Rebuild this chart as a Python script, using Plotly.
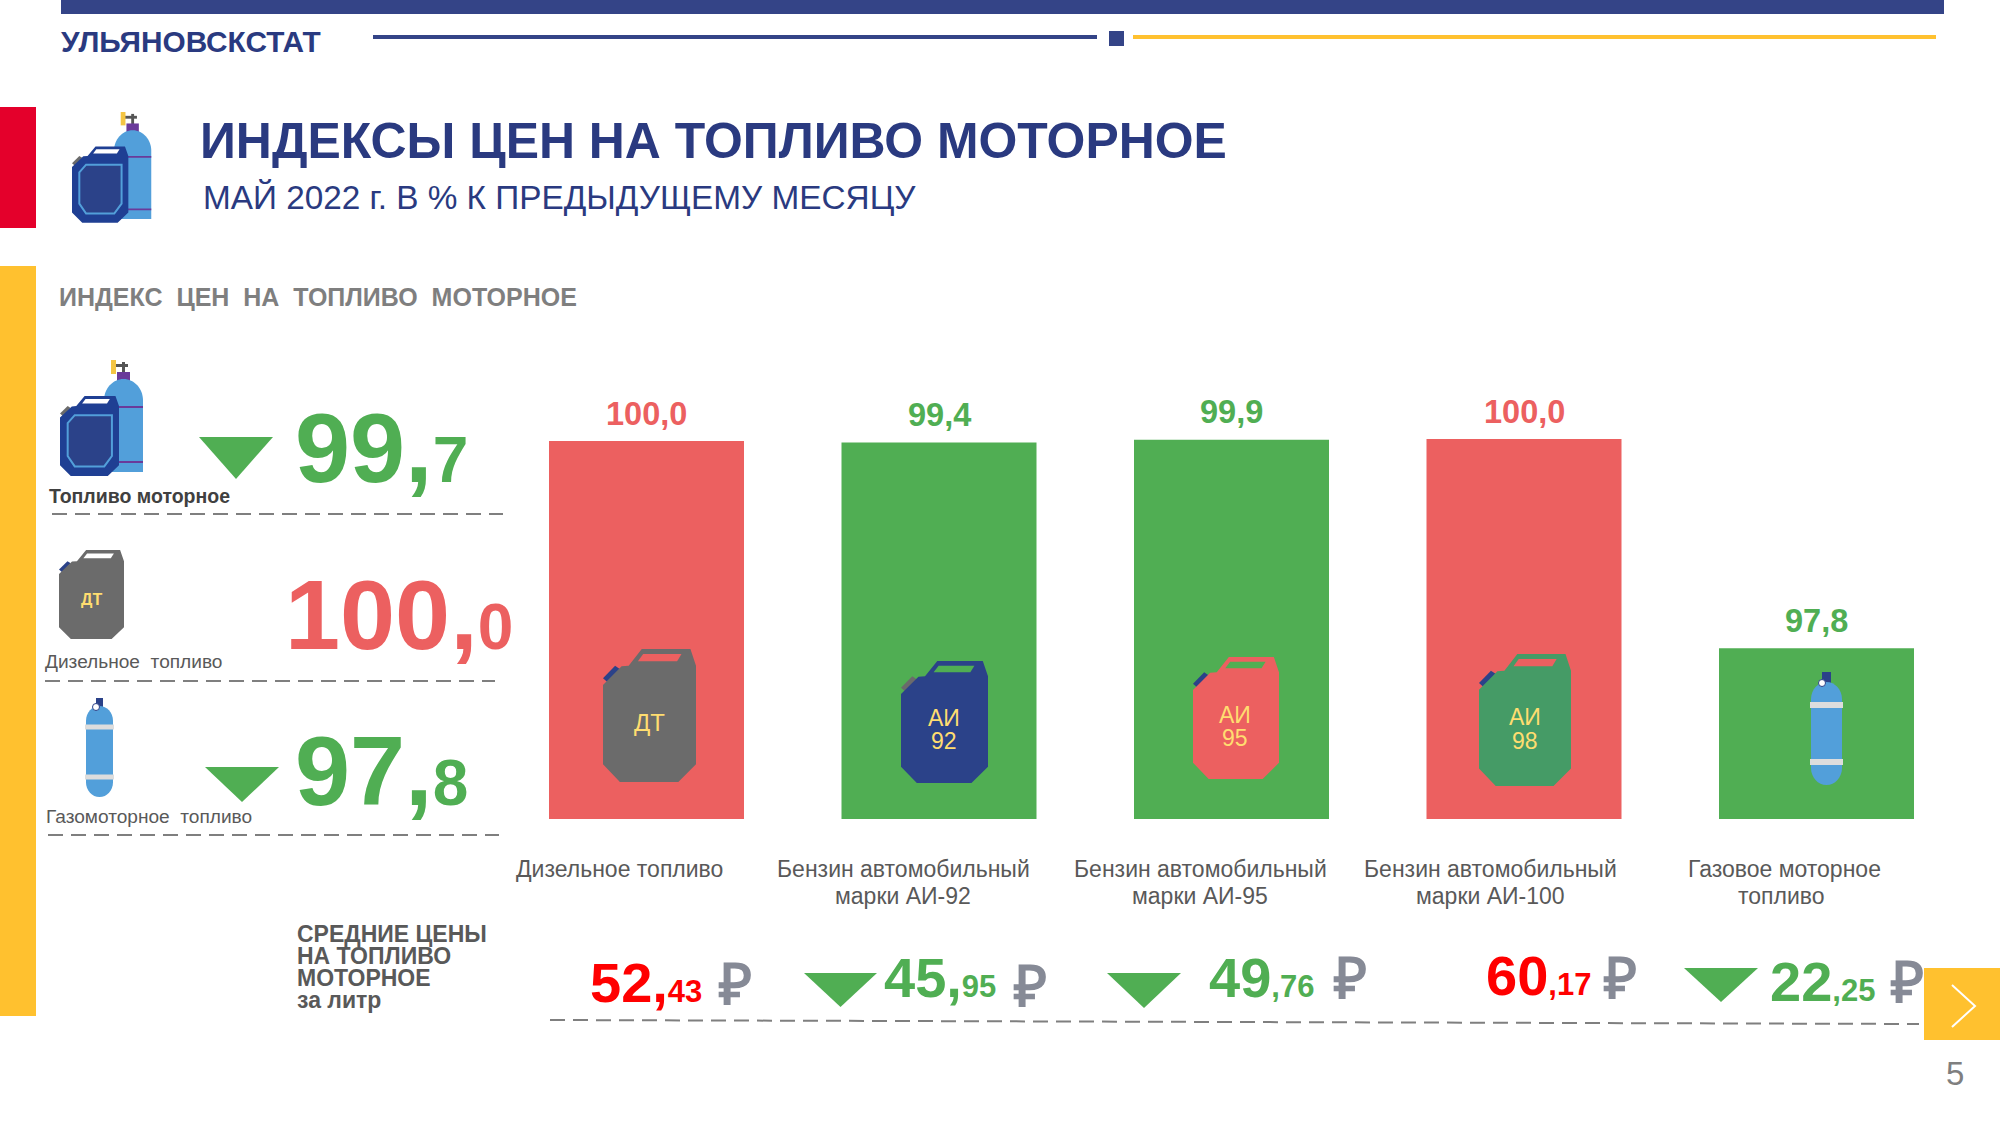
import plotly.graph_objects as go

W, H = 2000, 1125

# ---- data ----
fuel_names = ["Дизельное топливо", "Бензин АИ-92", "Бензин АИ-95", "Бензин АИ-100", "Газовое топливо"]
index_values = [100.0, 99.4, 99.9, 100.0, 97.8]
# Bar lengths as drawn in the picture (relative to first bar); the picture's bars are not proportional to the labels
bar_lengths = [100.0, 99.6, 100.3, 100.5, 45.2]
label_line1 = ["Дизельное топливо", "Бензин автомобильный", "Бензин автомобильный", "Бензин автомобильный", "Газовое моторное"]
label_line2 = ["", "марки АИ-92", "марки АИ-95", "марки АИ-100", "топливо"]
summary_names = ["Топливо моторное", "Дизельное  топливо", "Газомоторное  топливо"]
summary_whole = ["99,", "100,", "97,"]
summary_decimal = ["7", "0", "8"]
price_whole = ["52,", "45,", "49", "60", "22"]
price_decimal = ["43", "95", ",76", ",17", ",25"]
price_rising = [True, False, False, True, False]
price_heading = ["СРЕДНИЕ ЦЕНЫ", "НА ТОПЛИВО", "МОТОРНОЕ", "за литр"]

# ---- style ----
RED, GREEN = "#EC6060", "#50AE53"
PURE_RED = "#FF0000"
NAVY = "#2B4289"
HEAD = "#2A3A80"
BAR_TOP = "#344487"
YELLOW = "#FFC12F"
CRIMSON = "#E4002B"
GREY = "#7F7F7F"
DGREY = "#595959"
LBLUE = "#529FDA"
CANGREY = "#6B6B6B"
LABEL_Y = "#FFDD70"
FONT = "Liberation Sans"

shapes, annos = [], []


def px(x):
    return x / W


def py(y):
    return 1 - y / H


def rect(x0, y0, x1, y1, color):
    shapes.append(dict(type="rect", xref="paper", yref="paper", x0=px(x0), x1=px(x1), y0=py(y0), y1=py(y1),
                       fillcolor=color, line=dict(width=0)))


def poly(points, fill=None, stroke=None, width=0, close=True, dash=None):
    d = "M " + " L ".join(f"{px(a):.5f},{py(b):.5f}" for a, b in points) + (" Z" if close else "")
    line = dict(width=width, color=stroke or "rgba(0,0,0,0)")
    if dash:
        line["dash"] = dash
    shapes.append(dict(type="path", xref="paper", yref="paper", path=d,
                       fillcolor=fill or "rgba(0,0,0,0)", line=line))


def hline(x0, y0, x1, y1, color, width, dash=None):
    line = dict(color=color, width=width)
    if dash:
        line["dash"] = dash
    shapes.append(dict(type="line", xref="paper", yref="paper", x0=px(x0), x1=px(x1), y0=py(y0), y1=py(y1), line=line))


def txt(x, base, s, size, color, bold=False, anchor="left", family=FONT):
    """Text placed by its baseline in page pixels."""
    annos.append(dict(xref="paper", yref="paper", x=px(x), y=py(base + 0.22 * size), text=s, showarrow=False,
                      xanchor=anchor, yanchor="bottom", borderpad=0, borderwidth=0, align="left",
                      font=dict(family=family, size=size, color=color, weight=700 if bold else 400)))


def tri(x0, y0, x1, y1, color=GREEN):
    poly([(x0, y0), (x1, y0), ((x0 + x1) / 2, y1)], fill=color)


def can(x0, y0, x1, y1, body, hole, cap):
    w, h = x1 - x0, y1 - y0
    m = lambda pts: [(x0 + u * w, y0 + v * h) for u, v in pts]
    poly(m([(0, .22), (.13, .126), (.18, .15), (.052, .252)]), fill=cap)
    poly(m([(0, .27), (.2, .13), (.276, .126), (.417, 0), (.94, 0), (1, .126), (1, .867), (.81, 1), (.182, 1), (0, .867)]), fill=body)
    poly(m([(.432, .038), (.844, .038), (.797, .093), (.375, .093)]), fill=hole)


def bottle(x0, y0, x1, y1, color=LBLUE, round_bottom=True):
    r = (x1 - x0) / 2
    k = r * 1.1
    def f(a, b):
        return f"{px(a):.5f},{py(b):.5f}"
    d = f"M {f(x0, y0 + k)} C {f(x0, y0 + k * .45)} {f(x0 + r * .45, y0)} {f(x0 + r, y0)} C {f(x1 - r * .45, y0)} {f(x1, y0 + k * .45)} {f(x1, y0 + k)} "
    if round_bottom:
        d += f"L {f(x1, y1 - k)} C {f(x1, y1 - k * .45)} {f(x1 - r * .45, y1)} {f(x0 + r, y1)} C {f(x0 + r * .45, y1)} {f(x0, y1 - k * .45)} {f(x0, y1 - k)} Z"
    else:
        d += f"L {f(x1, y1)} L {f(x0, y1)} Z"
    shapes.append(dict(type="path", xref="paper", yref="paper", path=d, fillcolor=color, line=dict(width=0)))


def gauge(cx, cy, r):
    shapes.append(dict(type="circle", xref="paper", yref="paper", x0=px(cx - r), x1=px(cx + r), y0=py(cy - r), y1=py(cy + r),
                       fillcolor="white", line=dict(color=NAVY, width=1)))


def gas(x0, y0, x1, y1, band1, band2, neck_x0, neck_x1, neck_y0, band_h=6):
    rect(neck_x0, neck_y0, neck_x1, y0 + 2, NAVY)
    bottle(x0, y0, x1, y1)
    rect(x0 - 1, band1 - band_h / 2, x1 + 1, band1 + band_h / 2, "#DDDDDD")
    rect(x0 - 1, band2 - band_h / 2, x1 + 1, band2 + band_h / 2, "#DDDDDD")
    gauge(neck_x0, y0 + 1, 3.5)


def combo(x0, y0, s):
    """Can + gas cylinder icon: local units are the pixel size of the icon at scale 1."""
    t = lambda a, b: (x0 + a * s, y0 + b * s)
    # valve and knob
    a0, b0 = t(55, 4), t(68, 7)
    rect(a0[0], a0[1], b0[0], b0[1], "#555555")
    a0, b0 = t(62, 2), t(65, 14)
    rect(a0[0], a0[1], b0[0], b0[1], "#555555")
    a0, b0 = t(51, 0), t(56, 14)
    rect(a0[0], a0[1], b0[0], b0[1], "#F4C543")
    a0, b0 = t(57, 12), t(70, 22)
    rect(a0[0], a0[1], b0[0], b0[1], "#6A3A9A")
    a0, b0 = t(44, 19), t(83, 112)
    bottle(a0[0], a0[1], b0[0], b0[1], round_bottom=False)
    for yy in (47, 102):
        a0, b0 = t(44, yy - 1), t(83, yy + 1)
        rect(a0[0], a0[1], b0[0], b0[1], "#6A3A9A")
    a0, b0 = t(0, 36), t(59, 116)
    can(a0[0], a0[1], b0[0], b0[1], "#1F3F93", "white", CANGREY)
    w, h = b0[0] - a0[0], b0[1] - a0[1]
    poly([(a0[0] + u * w, a0[1] + v * h) for u, v in
          [(.13, .34), (.25, .24), (.88, .24), (.88, .75), (.75, .88), (.25, .88), (.13, .75)]],
         fill=NAVY, stroke=LBLUE, width=2)


# ---- page furniture ----
rect(61, 0, 1944, 14, BAR_TOP)
hline(373, 37, 1097, 37, BAR_TOP, 4)
rect(1109, 31, 1124, 46, BAR_TOP)
hline(1133, 37, 1936, 37, YELLOW, 4)
rect(0, 107, 36, 228, CRIMSON)
rect(0, 266, 36, 1016, YELLOW)
rect(1924, 968, 2000, 1040, YELLOW)
poly([(1952, 985), (1975, 1006), (1952, 1027)], stroke="white", width=2, close=False)

txt(61, 51, "УЛЬЯНОВСКСТАТ", 29.8, HEAD, bold=True)
txt(200, 158, "ИНДЕКСЫ ЦЕН НА ТОПЛИВО МОТОРНОЕ", 49.9, HEAD, bold=True)
txt(203, 209, "МАЙ 2022 г. В % К ПРЕДЫДУЩЕМУ МЕСЯЦУ", 33.35, HEAD)
txt(59, 305, "ИНДЕКС  ЦЕН  НА  ТОПЛИВО  МОТОРНОЕ", 25, GREY, bold=True)
txt(1955, 1085, "5", 33, GREY, anchor="center")

# ---- left summary ----
combo(72, 112, 0.955)
combo(60, 360, 1.0)
can(59, 550, 124, 639, CANGREY, "white", NAVY)
txt(91, 604, "ДТ", 16, LABEL_Y, bold=True, anchor="center")
gas(86, 706, 113, 797, 727, 777, 96, 103, 698, band_h=5)

tri(199, 437, 273, 479)
tri(205, 767, 279, 802)

name_x = [49, 45, 46]
name_base = [503, 668, 823]
name_size = [19.5, 19.1, 19.1]
for i, name in enumerate(summary_names):
    txt(name_x[i], name_base[i], name, name_size[i], DGREY if i else "#404040", bold=(i == 0))

num_x = [295, 285, 295]
num_base = [481.5, 648.5, 804]
num_col = [GREEN, RED, GREEN]
for i in range(3):
    s = f"{summary_whole[i]}<span style='font-size:64px'>{summary_decimal[i]}</span>"
    txt(num_x[i], num_base[i], s, 99, num_col[i], bold=True)

hline(52, 514, 503, 514, GREY, 2, "15px,8px")
hline(45, 681, 495, 681, GREY, 2, "15px,8px")
hline(48, 835, 499, 835, GREY, 2, "15px,8px")

# ---- category labels ----
label_cx = [619, 903, 1200, 1490.5, 1784]
label2_cx = [619, 903, 1200, 1490.5, 1781]
for i in range(5):
    txt(label_cx[i], 877, label_line1[i], 23, DGREY, anchor="center")
    if label_line2[i]:
        txt(label2_cx[i], 904, label_line2[i], 23, DGREY, anchor="center")

# ---- cans in bars ----
can(603, 649, 696, 782, CANGREY, RED, NAVY)
txt(649, 731, "ДТ", 24, LABEL_Y, anchor="center")
can(901, 661, 988, 783, NAVY, GREEN, CANGREY)
txt(944, 726, "АИ", 23, LABEL_Y, anchor="center")
txt(944, 749, "92", 23, LABEL_Y, anchor="center")
can(1193, 657, 1279, 779, RED, GREEN, NAVY)
txt(1235, 723, "АИ", 23, LABEL_Y, anchor="center")
txt(1235, 746, "95", 23, LABEL_Y, anchor="center")
can(1479, 654, 1571, 786, "#459B66", RED, NAVY)
txt(1525, 725, "АИ", 23, LABEL_Y, anchor="center")
txt(1525, 749, "98", 23, LABEL_Y, anchor="center")
gas(1811, 682, 1842, 785, 705, 762, 1822, 1831, 672)

# ---- prices ----
for i, line in enumerate(price_heading):
    txt(297, [942, 964, 986, 1008][i], line, 23, DGREY, bold=True)

price_x = [590, 884, 1209, 1486, 1770]
price_base = [1002, 997, 997, 995, 1001]
ruble_x = [718, 1013, 1333, 1603, 1890]
ruble_base = [1003, 1005, 997, 997, 1001]
for i in range(5):
    col = PURE_RED if price_rising[i] else GREEN
    s = f"{price_whole[i]}<span style='font-size:31px'>{price_decimal[i]}</span>"
    txt(price_x[i], price_base[i], s, 56, col, bold=True)
    txt(ruble_x[i], ruble_base[i], "₽", 57, "#868A96", bold=True)

tri(804, 973, 877, 1007)
tri(1107, 973, 1181, 1008)
tri(1684, 968, 1758, 1002)
hline(550, 1020, 1919, 1024, GREY, 2, "15px,8px")

# ---- bars ----
colors = [RED if v >= 100 else GREEN for v in index_values]
fig = go.Figure(go.Bar(x=fuel_names, y=bar_lengths, marker=dict(color=colors, line=dict(width=0)), width=0.6667,
                       hoverinfo="skip"))
for n, v, h, c in zip(fuel_names, index_values, bar_lengths, colors):
    annos.append(dict(x=n, y=h, xref="x", yref="y", text=f"{v:.1f}".replace(".", ","), showarrow=False, yanchor="bottom",
                      yshift=8.5, borderpad=0, font=dict(family=FONT, size=32.5, color=c, weight=700)))

fig.update_layout(
    width=W, height=H, margin=dict(l=0, r=0, t=0, b=0), paper_bgcolor="white", plot_bgcolor="white", showlegend=False,
    xaxis=dict(domain=[500.25 / W, 1962.75 / W], visible=False, type="category"),
    yaxis=dict(domain=[1 - 819 / H, 1 - 419 / H], range=[0, 400 / 378 * 100], visible=False),
    shapes=shapes, annotations=annos,
)
fig.write_html("out.html", config={"displayModeBar": False},
               post_script="document.body.style.margin='0';document.body.style.overflow='hidden';")
